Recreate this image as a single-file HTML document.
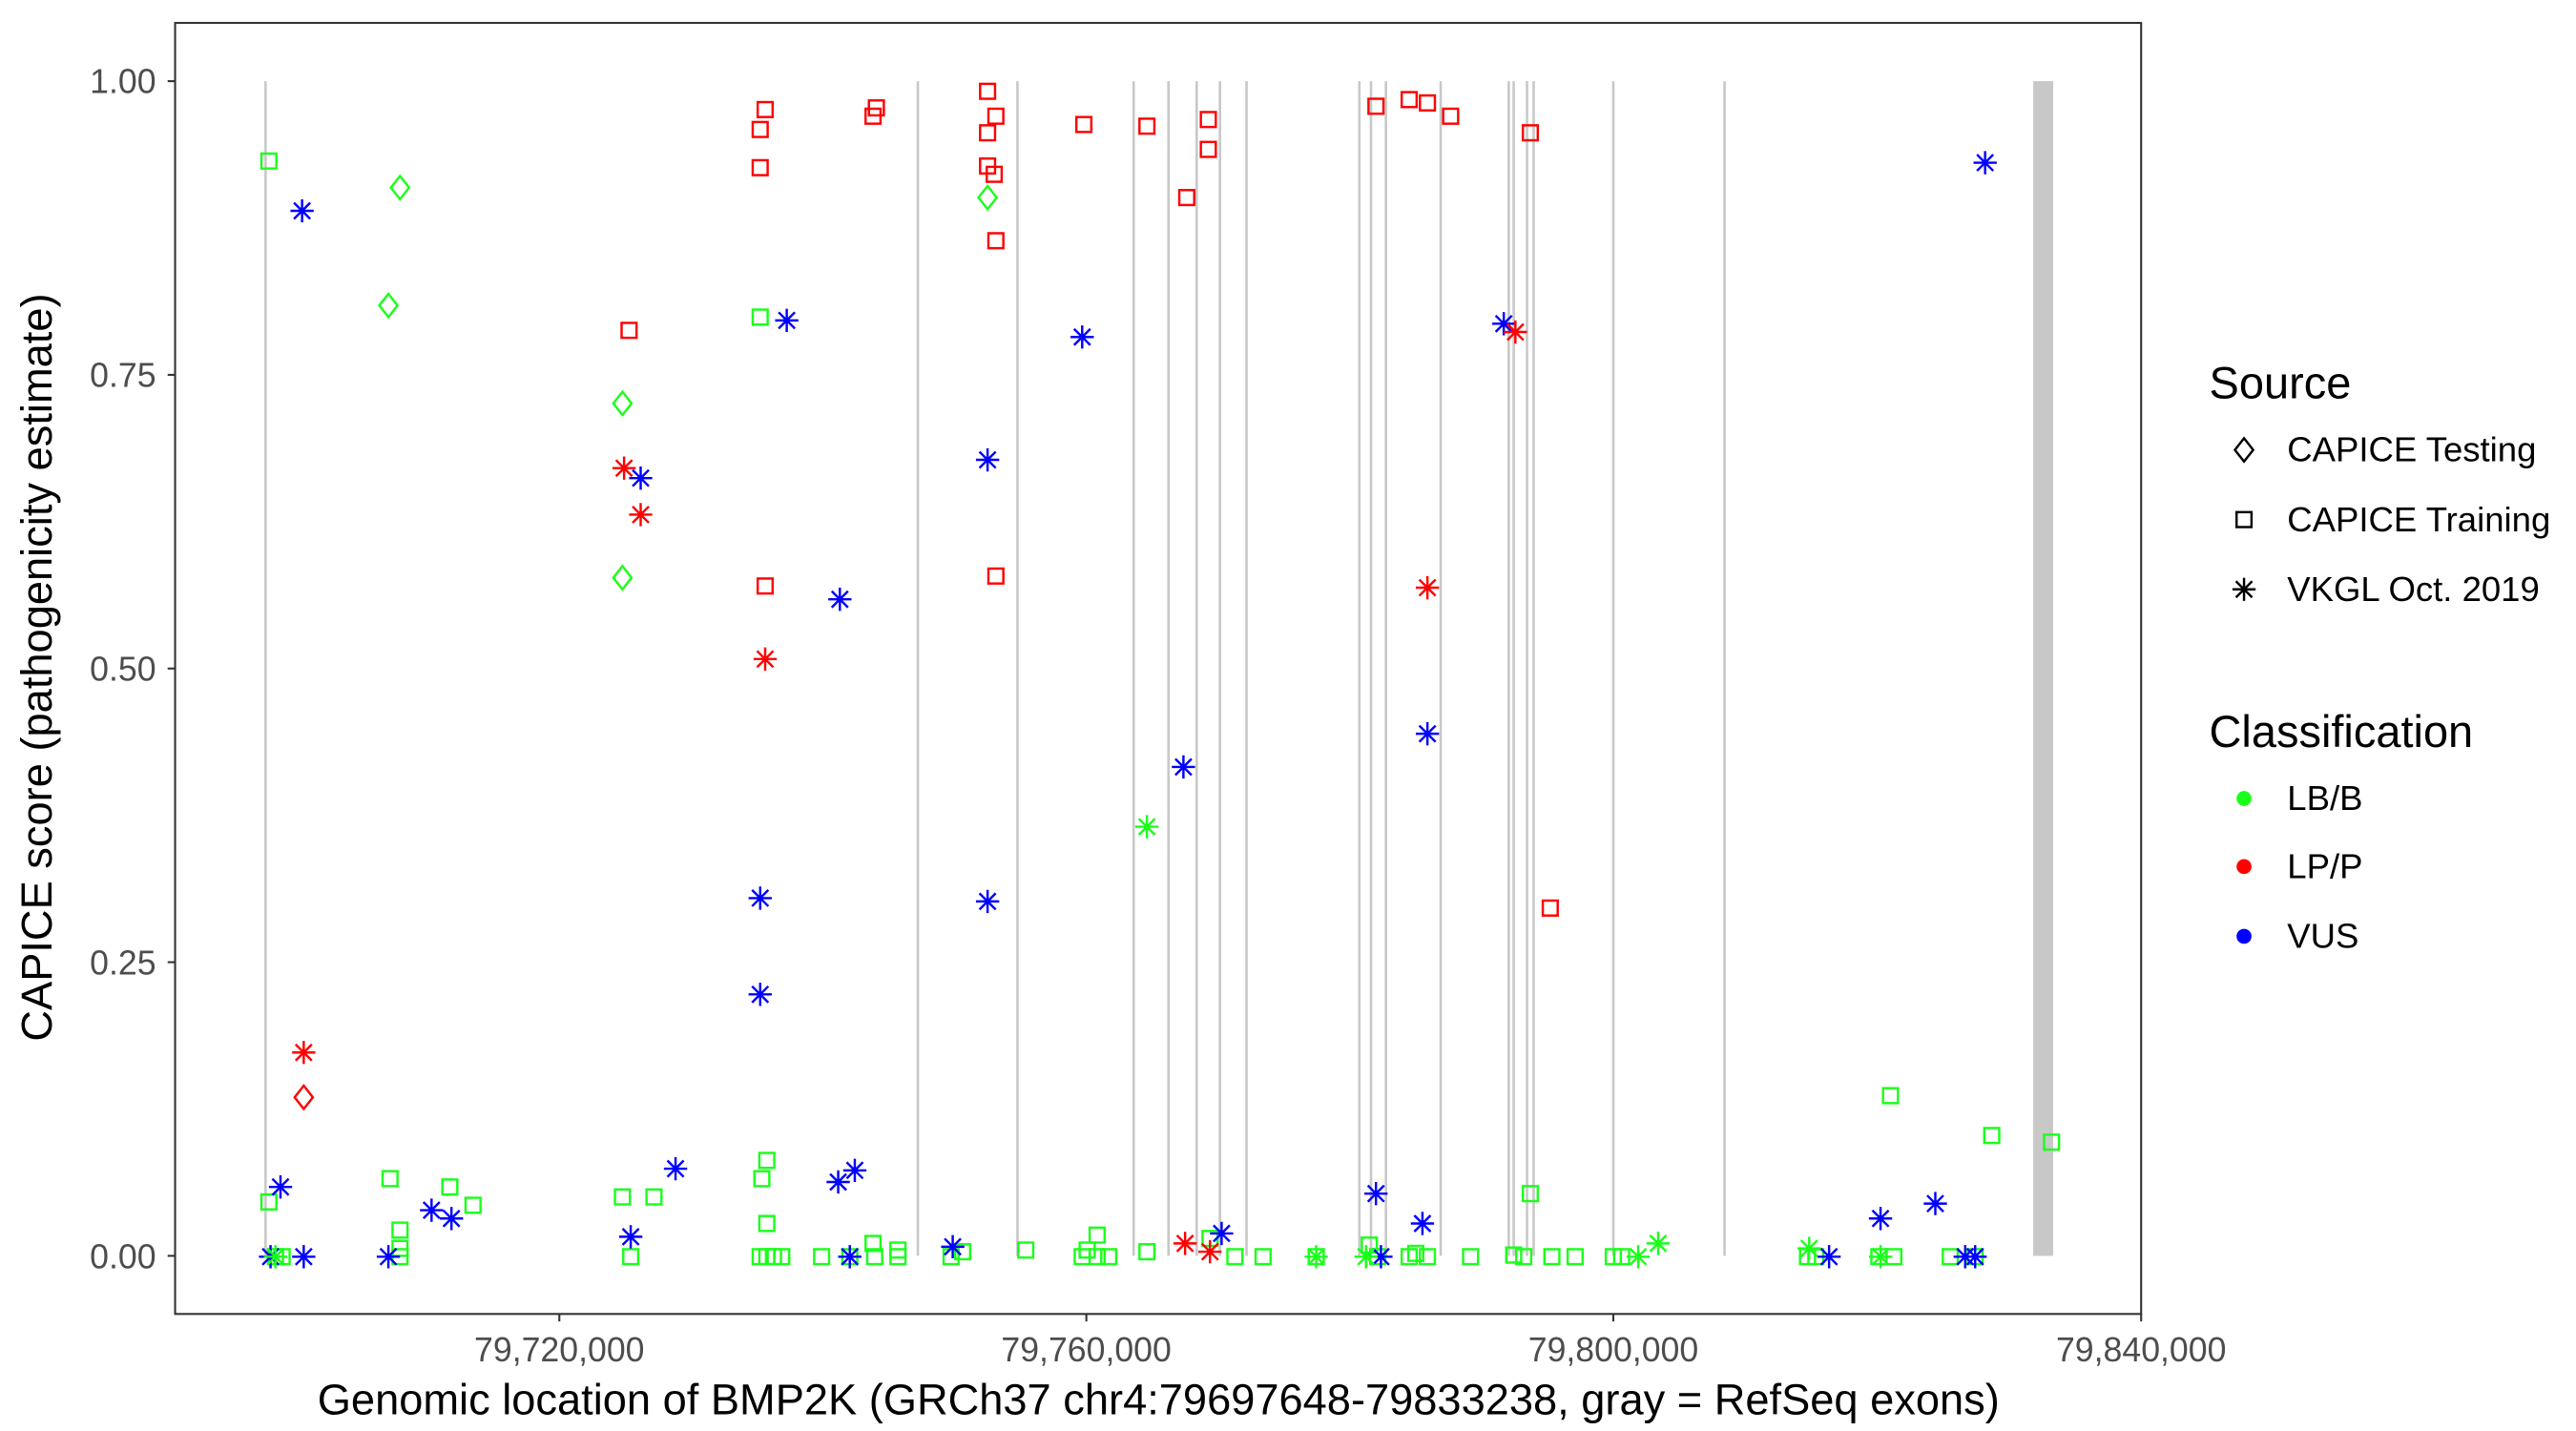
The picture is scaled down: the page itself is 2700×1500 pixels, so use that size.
<!DOCTYPE html>
<html><head><meta charset="utf-8"><style>
html,body{margin:0;padding:0;background:#fff}
svg{display:block}
text{font-family:"Liberation Sans",Arial,sans-serif}
</style></head><body>
<svg id="s" width="2700" height="1500" viewBox="0 0 1552 862" preserveAspectRatio="none" xmlns="http://www.w3.org/2000/svg">
<rect x="0" y="0" width="1552" height="862" fill="#fff"/>
<g id="ex" stroke="#c8c8c8" stroke-width="1.5"></g>
<rect x="1225" y="48.9" width="12" height="707.6" fill="#c8c8c8"/>
<g id="pts" fill="none" stroke-width="1.4"></g>
<rect x="105.5" y="13.8" width="1184.5" height="777.7" fill="none" stroke="#333" stroke-width="1.2"/>
<g stroke="#333" stroke-width="1.2">
<line x1="101" x2="105.5" y1="48.9" y2="48.9"/><line x1="101" x2="105.5" y1="225.8" y2="225.8"/><line x1="101" x2="105.5" y1="402.7" y2="402.7"/><line x1="101" x2="105.5" y1="579.6" y2="579.6"/><line x1="101" x2="105.5" y1="756.5" y2="756.5"/>
<line x1="337" x2="337" y1="791.5" y2="796"/><line x1="654.5" x2="654.5" y1="791.5" y2="796"/><line x1="972" x2="972" y1="791.5" y2="796"/><line x1="1290" x2="1290" y1="791.5" y2="796"/>
</g>
<g fill="#4d4d4d" font-size="20.5" text-anchor="end">
<text x="94" y="56">1.00</text><text x="94" y="233">0.75</text><text x="94" y="410">0.50</text><text x="94" y="587">0.25</text><text x="94" y="764">0.00</text>
</g>
<g fill="#4d4d4d" font-size="20.5" text-anchor="middle">
<text x="337" y="820">79,720,000</text><text x="654.5" y="820">79,760,000</text><text x="972" y="820">79,800,000</text><text x="1290" y="820">79,840,000</text>
</g>
<text x="698" y="852" font-size="26" text-anchor="middle">Genomic location of BMP2K (GRCh37 chr4:79697648-79833238, gray = RefSeq exons)</text>
<text transform="translate(31,402) rotate(-90)" font-size="26" text-anchor="middle">CAPICE score (pathogenicity estimate)</text>
<text x="1331" y="240" font-size="27">Source</text>
<text x="1378" y="278" font-size="21">CAPICE Testing</text>
<text x="1378" y="320" font-size="21">CAPICE Training</text>
<text x="1378" y="362" font-size="21">VKGL Oct. 2019</text>
<text x="1331" y="450" font-size="27">Classification</text>
<text x="1378" y="488" font-size="21">LB/B</text>
<text x="1378" y="529" font-size="21">LP/P</text>
<text x="1378" y="571" font-size="21">VUS</text>
<g id="leg" fill="none" stroke="#000" stroke-width="1.4"></g>
<circle cx="1352" cy="481" r="4.5" fill="#1aff1a"/>
<circle cx="1352" cy="522" r="4.5" fill="#ff0000"/>
<circle cx="1352" cy="564" r="4.5" fill="#0000ff"/>
</svg>
<script>
var NS="http://www.w3.org/2000/svg";
function el(p,t,a){var e=document.createElementNS(NS,t);for(var k in a)e.setAttribute(k,a[k]);p.appendChild(e);return e;}
var ex=document.getElementById('ex');
[160,553,613,683,704,721,735,751,819,826,835,868,909,912,920,924,972,1039].forEach(function(x){el(ex,'line',{x1:x,x2:x,y1:48.9,y2:756.5});});
var G='#1aff1a',R='#ff0000',B='#0000ff';
function sq(p,x,y,c){el(p,'rect',{x:x-4.5,y:y-4.5,width:9,height:9,stroke:c});}
function di(p,x,y,c){el(p,'path',{d:'M'+x+' '+(y-7)+'L'+(x+5.5)+' '+y+'L'+x+' '+(y+7)+'L'+(x-5.5)+' '+y+'Z',stroke:c});}
function as(p,x,y,c){var r=7,d=4.9;el(p,'path',{d:'M'+x+' '+(y-r)+'V'+(y+r)+'M'+(x-r)+' '+y+'H'+(x+r)+'M'+(x-d)+' '+(y-d)+'L'+(x+d)+' '+(y+d)+'M'+(x-d)+' '+(y+d)+'L'+(x+d)+' '+(y-d),stroke:c});}
var P=document.getElementById('pts');
var gs=[[162,97],[162,724],[166,757],[170,757],[235,710],[241,741],[241,752],[241,757],[271,715],[285,726],[375,721],[380,757],[394,721],[458,191],[459,710],[462,699],[462,737],[458,757],[462,757],[466,757],[471,757],[495,757],[512,757],[526,749],[527,757],[541,753],[541,757],[573,757],[580,754],[618,753],[652,757],[655,753],[661,744],[661,757],[668,757],[691,754],[729,746],[744,757],[761,757],[793,757],[825,750],[830,757],[849,757],[853,755],[860,757],[886,757],[912,756],[918,757],[922,719],[935,757],[949,757],[972,757],[977,757],[1089,757],[1094,757],[1132,757],[1139,660],[1141,757],[1175,757],[1190,757],[1200,684],[1236,688]];
gs.forEach(function(p){sq(P,p[0],p[1],G);});
[[379,199],[458,101],[458,78],[461,66],[461,353],[526,70],[528,65],[595,55],[595,80],[595,100],[599,105],[600,70],[600,145],[600,347],[653,75],[691,76],[715,119],[728,72],[728,90],[829,64],[849,60],[860,62],[874,70],[922,80],[934,547]].forEach(function(p){sq(P,p[0],p[1],R);});
[[241,113],[234,184],[375,243],[375,348],[595,119]].forEach(function(p){di(P,p[0],p[1],G);});
di(P,183,661,R);
[[182,127],[169,715],[163,757],[183,757],[234,757],[260,729],[272,734],[380,745],[386,288],[407,704],[458,541],[458,599],[474,193],[506,361],[505,712],[515,705],[512,757],[574,751],[595,277],[595,543],[652,203],[713,462],[736,743],[829,719],[832,757],[857,737],[860,442],[906,195],[1102,757],[1133,734],[1166,725],[1184,757],[1190,757],[1196,98]].forEach(function(p){as(P,p[0],p[1],B);});
[[183,634],[376,282],[386,310],[461,397],[714,749],[729,754],[860,354],[913,200]].forEach(function(p){as(P,p[0],p[1],R);});
[[166,757],[691,498],[793,757],[823,757],[987,757],[999,749],[1090,752],[1133,757]].forEach(function(p){as(P,p[0],p[1],G);});
var L=document.getElementById('leg');
di(L,1352,271,'#000');sq(L,1352,313,'#000');as(L,1352,355,'#000');
</script>
</body></html>
